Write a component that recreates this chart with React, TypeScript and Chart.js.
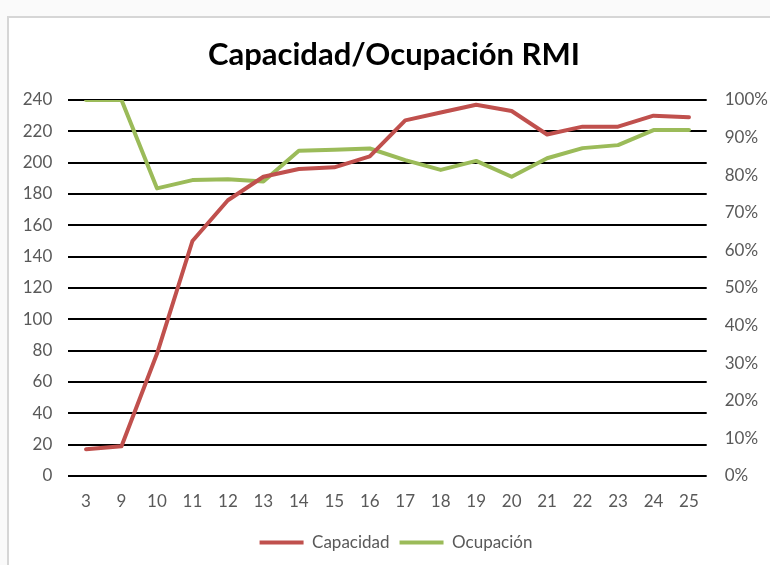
import React, { useEffect, useRef } from "react";
import { Chart, registerables } from "chart.js";

Chart.register(...registerables);

const categories = ["3", "9", "10", "11", "12", "13", "14", "15", "16", "17", "18", "19", "20", "21", "22", "23", "24", "25"];
const capacidad = [17, 19, 78, 150, 176, 191, 196, 197, 204, 227, 232, 237, 233, 218, 223, 223, 230, 229];
const ocupacion = [100, 100, 76.5, 78.7, 78.9, 78.3, 86.5, 86.8, 87.1, 84.0, 81.4, 83.8, 79.6, 84.5, 87.2, 88.0, 92.0, 92.0];
const seriesNames = ["Capacidad", "Ocupación"];
const titleText = "Capacidad/Ocupación RMI";

const RED = "#C0504D";
const GREEN = "#9BBB59";
const TICK = "#595959";
const FONT = "Lato, 'Noto Sans', sans-serif";

// the original panel is wider than the window, so title and legend are centred a bit to the right
const shiftBlocks = {
  id: "shiftBlocks",
  afterLayout(chart: any) {
    if (chart.titleBlock) {
      chart.titleBlock.left += 18;
    }
    if (chart.legend) {
      chart.legend.left += 11;
      chart.legend.right += 11;
    }
  },
};

export default function App() {
  const ref = useRef<HTMLCanvasElement | null>(null);

  useEffect(() => {
    if (!ref.current) return;
    const chart = new Chart(ref.current, {
      type: "line",
      data: {
        labels: categories,
        datasets: [
          {
            label: seriesNames[0],
            data: capacidad,
            borderColor: RED,
            backgroundColor: RED,
            borderWidth: 4,
            pointRadius: 0,
            borderJoinStyle: "round",
            borderCapStyle: "round",
            tension: 0,
            yAxisID: "y",
          },
          {
            label: seriesNames[1],
            data: ocupacion,
            borderColor: GREEN,
            backgroundColor: GREEN,
            borderWidth: 4,
            pointRadius: 0,
            borderJoinStyle: "round",
            borderCapStyle: "round",
            tension: 0,
            yAxisID: "y1",
          },
        ],
      },
      plugins: [shiftBlocks],
      options: {
        animation: false,
        responsive: false,
        devicePixelRatio: 1,
        layout: { padding: { left: 0, right: 0, top: 0, bottom: 4 } },
        plugins: {
          title: {
            display: true,
            text: titleText,
            color: "#000000",
            font: { family: FONT, size: 31, weight: "bold" },
            padding: { top: 36.4, bottom: 26.4 },
          },
          legend: {
            display: true,
            position: "bottom",
            labels: {
              color: TICK,
              font: { family: FONT, size: 17 },
              boxWidth: 44,
              boxHeight: 4,
              padding: 10,
              generateLabels: (c: any) => {
                const items = Chart.defaults.plugins.legend.labels.generateLabels(c);
                return items.map((it: any) => ({
                  ...it,
                  fillStyle: it.strokeStyle,
                  strokeStyle: "rgba(0,0,0,0)",
                  lineWidth: 0,
                }));
              },
            },
          },
          tooltip: { enabled: false },
        },
        scales: {
          x: {
            offset: true,
            grid: { display: false, drawTicks: false },
            border: { display: false },
            ticks: {
              color: TICK,
              font: { family: FONT, size: 17 },
              padding: 15,
              maxRotation: 0,
              autoSkip: false,
            },
            afterFit: (s: any) => {
              s.height = 48;
            },
          },
          y: {
            position: "left",
            min: 0,
            max: 240,
            grid: { color: "#000000", lineWidth: 2, drawTicks: false },
            border: { display: false },
            ticks: {
              stepSize: 20,
              color: TICK,
              font: { family: FONT, size: 17 },
              padding: 16,
            },
            afterFit: (s: any) => {
              s.width = 68.3;
            },
          },
          y1: {
            position: "right",
            min: 0,
            max: 100,
            grid: { display: false, drawTicks: false },
            border: { display: false },
            ticks: {
              stepSize: 10,
              color: TICK,
              font: { family: FONT, size: 17 },
              padding: 18,
              callback: (v: any) => `${v}%`,
            },
            afterFit: (s: any) => {
              s.width = 63.3;
            },
          },
        },
      },
    });
    return () => chart.destroy();
  }, []);

  return (
    <div style={{ position: "fixed", left: 0, top: 0, width: 770, height: 565, background: "#fafafa", overflow: "hidden" }}>
      <div
        style={{
          position: "absolute",
          left: 7,
          top: 16,
          width: 800,
          height: 600,
          background: "#ffffff",
          borderLeft: "2px solid #d6d6d6",
          borderTop: "2px solid #d6d6d6",
        }}
      />
      <canvas ref={ref} width={770} height={565} style={{ position: "absolute", left: 0, top: 0, width: 770, height: 565 }} />
    </div>
  );
}
